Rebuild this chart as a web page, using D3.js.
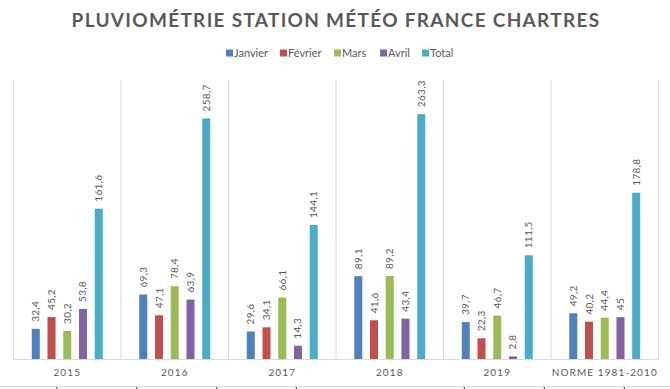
<!DOCTYPE html>
<html>
<head>
<meta charset="utf-8">
<script src="https://cdn.jsdelivr.net/npm/d3@7"></script>
<style>
body { margin: 0; background: #fff; }
svg { display: block; font-family: Lato, "Open Sans", sans-serif; }
</style>
</head>
<body>
<div id="container"></div>
<script>
///data
const categories = ["2015", "2016", "2017", "2018", "2019", "NORME 1981-2010"];
const series = ["Janvier", "Février", "Mars", "Avril", "Total"];
const janvier = [32.4, 69.3, 29.6, 89.1, 39.7, 49.2];
const fevrier = [45.2, 47.1, 34.1, 41.6, 22.3, 40.2];
const mars = [30.2, 78.4, 66.1, 89.2, 46.7, 44.4];
const avril = [53.8, 63.9, 14.3, 43.4, 2.8, 45];
const total = [161.6, 258.7, 144.1, 263.3, 111.5, 178.8];
const colors = ["#4f81bd", "#c0504d", "#9bbb59", "#8064a2", "#4bacc6"];

///vars
let w = 670,
h = 389,
plotLeft = 13.5,
plotRight = 658.5,
plotTop = 80,
plotBottom = 359;

const values = [janvier, fevrier, mars, avril, total];
const fmt = v => String(v).replace(".", ",");

///svg
let svg = d3.select("#container").
append("svg").
attr("width", w).
attr("height", h);

///scales
const x0 = d3.scaleBand().domain(categories).range([plotLeft, plotRight]).padding(0);
const x1 = d3.scaleBand().domain(series).range([0, x0.bandwidth()]).
paddingInner(0.49).paddingOuter(1.16);
const y = d3.scaleLinear().domain([0, 300]).range([plotBottom, plotTop]);

///vertical grid between categories
svg.append("g").
selectAll("line").
data(categories.concat(["end"])).
join("line").
attr("x1", (d, i) => i < categories.length ? x0(d) : plotRight).
attr("x2", (d, i) => i < categories.length ? x0(d) : plotRight).
attr("y1", plotTop).
attr("y2", plotBottom).
attr("stroke", "#d9d9d9").
attr("stroke-width", 1);

///title
svg.append("text").
attr("x", 336).
attr("y", 27).
attr("text-anchor", "middle").
style("font-size", "19px").
style("font-weight", "bold").
style("letter-spacing", "1.3px").
style("fill", "#595959").
text("PLUVIOMÉTRIE STATION MÉTÉO FRANCE CHARTRES");

///legend
const legendX = [226, 280, 334, 380, 422];
let legend = svg.append("g").attr("id", "legend");
let item = legend.selectAll("g").
data(series).
join("g").
attr("transform", (d, i) => "translate(" + legendX[i] + ",53)");
item.append("rect").
attr("y", -3.5).
attr("width", 7).
attr("height", 7).
attr("fill", (d, i) => colors[i]);
item.append("text").
attr("x", 8).
attr("y", 4).
style("font-size", "11px").
style("fill", "#595959").
text(d => d);

///bars
let groups = svg.append("g").
selectAll("g").
data(series).
join("g").
attr("fill", (d, i) => colors[i]);

groups.selectAll("rect").
data((s, si) => categories.map((c, ci) => ({ s: s, c: c, v: values[si][ci] }))).
join("rect").
attr("x", d => x0(d.c) + x1(d.s)).
attr("y", d => y(d.v)).
attr("width", x1.bandwidth()).
attr("height", d => plotBottom - y(d.v));

///labels on bars
groups.selectAll("text").
data((s, si) => categories.map((c, ci) => ({ s: s, c: c, v: values[si][ci] }))).
join("text").
attr("transform", d => "translate(" + (x0(d.c) + x1(d.s) + x1.bandwidth() / 2 + 3.5) + "," + (y(d.v) - 7) + ") rotate(-90)").
style("font-size", "10px").
style("letter-spacing", "0.3px").
style("fill", "#595959").
text(d => fmt(d.v));

///x axis line
svg.append("line").
attr("x1", plotLeft).
attr("x2", plotRight).
attr("y1", plotBottom + 0.5).
attr("y2", plotBottom + 0.5).
attr("stroke", "#d9d9d9");

svg.append("g").
selectAll("text").
data(categories).
join("text").
attr("x", d => x0(d) + x0.bandwidth() / 2).
attr("y", 376).
attr("text-anchor", "middle").
style("font-size", "10px").
style("letter-spacing", "1.1px").
style("fill", "#595959").
text(d => d);

///line under the chart
svg.append("line").
attr("x1", 0).
attr("x2", w).
attr("y1", 386.5).
attr("y2", 386.5).
attr("stroke", "#d9d9d9");
svg.append("g").
selectAll("line").
data([57, 136.7, 216.7, 296.3, 464.3, 544.3, 624.3]).
join("line").
attr("x1", d => d).
attr("x2", d => d).
attr("y1", 387).
attr("y2", 389).
attr("stroke", "#333");
</script>
</body>
</html>
